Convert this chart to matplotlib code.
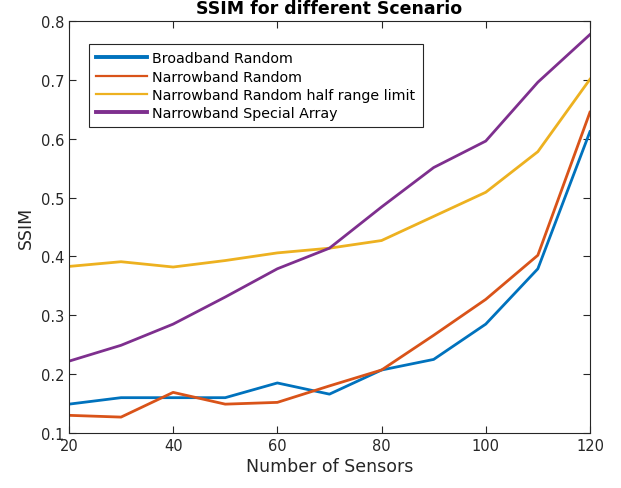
import matplotlib
matplotlib.use("Agg")
import matplotlib.pyplot as plt

# sensor counts and SSIM per scenario
sensors = [20, 30, 40, 50, 60, 70, 80, 90, 100, 110, 120]
broadband_random = [0.149, 0.160, 0.160, 0.160, 0.185, 0.166, 0.207, 0.225, 0.285, 0.379, 0.612]
narrowband_random = [0.130, 0.127, 0.169, 0.149, 0.152, 0.180, 0.207, 0.266, 0.327, 0.402, 0.645]
narrowband_half = [0.383, 0.391, 0.382, 0.393, 0.406, 0.414, 0.427, 0.468, 0.509, 0.578, 0.701]
narrowband_special = [0.222, 0.249, 0.285, 0.331, 0.379, 0.414, 0.484, 0.551, 0.596, 0.696, 0.777]

labels = ["Broadband Random", "Narrowband Random",
          "Narrowband Random half range limit", "Narrowband Special Array"]
colors = ["#0072BD", "#D95319", "#EDB120", "#7E2F8E"]

plt.rcParams["font.family"] = "DejaVu Sans"
fig = plt.figure(figsize=(6.21, 4.89), dpi=100)
ax = fig.add_axes([0.111, 0.1125, 0.839, 0.8425])

series = [broadband_random, narrowband_random, narrowband_half, narrowband_special]
for ys, lab, c in zip(series, labels, colors):
    ax.plot(sensors, ys, color=c, linewidth=2.0, label=lab)

ax.set_xlim(20, 120)
ax.set_ylim(0.1, 0.8)
ax.set_xticks([20, 40, 60, 80, 100, 120])
ax.set_yticks([0.1, 0.2, 0.3, 0.4, 0.5, 0.6, 0.7, 0.8])
ax.tick_params(direction="in", top=True, right=True, labelsize=10.5, colors="#262626", length=5)
for s in ax.spines.values():
    s.set_color("#262626")
    s.set_linewidth(0.8)

ax.set_xlabel("Number of Sensors", fontsize=12.5, color="#262626", labelpad=3)
ax.set_ylabel("SSIM", fontsize=12.5, color="#262626", labelpad=4)
ax.set_title("SSIM for different Scenario", fontsize=12.5, fontweight="bold", pad=6)

leg = ax.legend(loc="upper left", bbox_to_anchor=(0.038, 0.944), fontsize=10.3,
                fancybox=False, edgecolor="#262626", framealpha=1,
                handlelength=3.6, handletextpad=0.35, borderpad=0.5, labelspacing=0.3,
                borderaxespad=0)
leg.get_frame().set_linewidth(0.8)
for h, w in zip(leg.get_lines(), [2.8, 1.6, 1.6, 2.8]):
    h.set_linewidth(w)

fig.savefig("out.png", dpi=100)
